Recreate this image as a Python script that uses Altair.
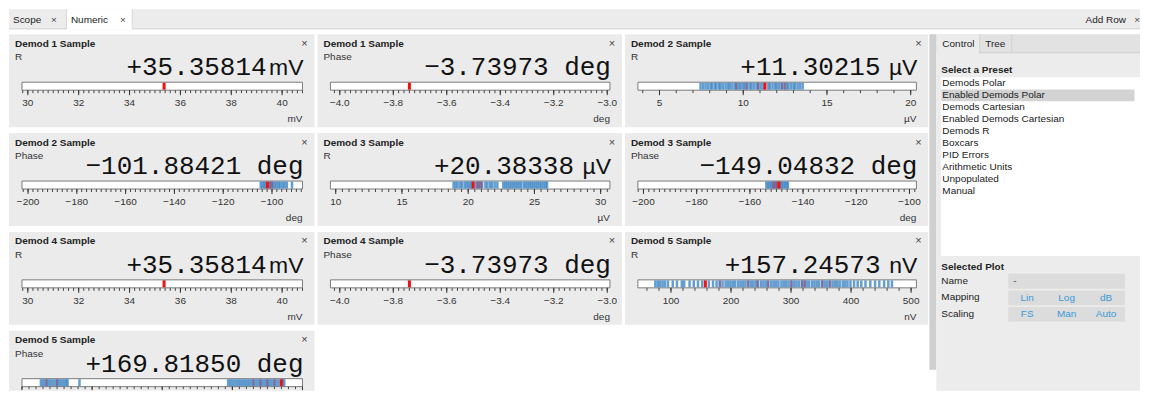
import math
import altair as alt
import pandas as pd

UI_FONT = "Liberation Sans"
MONO = "Liberation Mono"
PANEL_BG = "#ebebeb"
BLUE = "#3d84c4"
PURPLE = "#9a4a6e"
RED = "#ee1111"

# ---------------- data ----------------
titles = ["Demod 1 Sample", "Demod 1 Sample", "Demod 2 Sample", "Demod 2 Sample",
          "Demod 3 Sample", "Demod 3 Sample", "Demod 4 Sample", "Demod 4 Sample",
          "Demod 5 Sample", "Demod 5 Sample"]
quantities = ["R", "Phase", "R", "Phase", "R", "Phase", "R", "Phase", "R", "Phase"]
values = [35.35814, -3.73973, 11.30215, -101.88421, 20.38338, -149.04832,
          35.35814, -3.73973, 157.24573, 169.81850]
value_texts = ["+35.35814", "−3.73973", "+11.30215", "−101.88421", "+20.38338",
               "−149.04832", "+35.35814", "−3.73973", "+157.24573", "+169.81850"]
units = ["mV", "deg", "µV", "deg", "µV", "deg", "mV", "deg", "nV", "deg"]
domains = [[29.77, 40.8], [-4.035, -2.99], [3.71, 20.34], [-202.5, -87.5],
           [9.6, 30.7], [-202.1, -97.4], [29.77, 40.8], [-4.035, -2.99],
           [44.9, 508.8], [-200.0, 200.0]]
major_ticks = [
    [30, 32, 34, 36, 38, 40],
    [-4.0, -3.8, -3.6, -3.4, -3.2, -3.0],
    [5, 10, 15, 20],
    [-200, -180, -160, -140, -120, -100],
    [10, 15, 20, 25, 30],
    [-200, -180, -160, -140, -120, -100],
    [30, 32, 34, 36, 38, 40],
    [-4.0, -3.8, -3.6, -3.4, -3.2, -3.0],
    [100, 200, 300, 400, 500],
    [-200, -100, 0, 100, 200],
]
minor_steps = [0.2, 0.02, 1, 2, 0.5, 2, 0.2, 0.02, 20, 10]
label_formats = ["d", ".1f", "d", "d", "d", "d", "d", ".1f", "d", "d"]

samples = [
    [],
    [],
    [7.45, 7.6, 7.75, 7.9, 8.05, 8.15, 8.3, 8.4, 8.55, 8.65, 8.8, 8.95, 9.1, 9.2,
     9.35, 9.5, 9.6, 9.75, 9.85, 10.0, 10.1, 10.25, 10.4, 10.5, 10.65, 10.8, 10.9,
     11.05, 11.2, 11.5, 11.6, 11.75, 11.9, 12.0, 12.15, 12.3, 12.45, 12.6, 12.7,
     12.85, 13.0, 13.1, 13.25, 13.4, 13.55],
    [-104.6, -103.9, -103.2, -102.6, -101.0, -100.3, -99.5, -98.8, -98.0, -97.2,
     -96.5, -95.6, -94.8, -93.9, -91.8],
    [18.9, 19.05, 19.2, 19.4, 19.55, 19.75, 19.9, 20.05, 20.2, 20.3, 20.6, 20.75,
     20.9, 21.05, 21.3, 21.45, 21.65, 21.8, 22.0, 22.2, 22.65, 22.8, 22.95, 23.1,
     23.25, 23.4, 23.55, 23.7, 23.85, 24.0, 24.2, 24.35, 24.5, 24.65, 24.8, 24.95,
     25.1, 25.25, 25.4, 25.55, 25.7, 25.85, 25.95],
    [-153.8, -153.2, -152.6, -152.0, -151.4, -150.8, -150.2, -149.6, -148.6,
     -148.0, -147.4, -146.8, -146.2, -145.7],
    [],
    [],
    [74, 78, 82, 86, 90, 95, 103, 110, 118, 122, 131, 138, 145, 152, 163, 170, 176,
     181, 186, 191, 195, 199, 203, 207, 212, 216, 220, 224, 229, 233, 237, 241, 245,
     250, 254, 258, 262, 267, 271, 275, 279, 284, 288, 292, 296, 301, 305, 309, 313,
     318, 322, 326, 330, 335, 339, 343, 347, 352, 356, 360, 364, 369, 373, 377, 381,
     386, 390, 394, 399, 405, 411, 417, 424, 432, 440, 447, 455, 462, 468],
    [-173, -170, -167, -164, -161, -158, -155, -152, -149, -146, -143, -140, -137,
     -135, -118, 94, 97, 100, 103, 106, 109, 112, 115, 118, 121, 124, 127, 130, 133,
     136, 139, 142, 145, 148, 151, 154, 157, 160, 163, 166, 172, 174],
]
recent = [
    [], [],
    [9.6, 10.2, 10.9, 12.3, 12.5],
    [-100.9, -100.0],
    [20.7, 20.85, 21.0],
    [-151.3, -150.5, -149.8],
    [], [],
    [182, 228, 244, 262, 300, 318, 323, 352, 365],
    [-165, -150, 130, 140, 150, 160],
]

tab_labels = ["Scope", "Numeric"]
side_tabs = ["Control", "Tree"]
preset_names = ["Demods Polar", "Enabled Demods Polar", "Demods Cartesian",
                "Enabled Demods Cartesian", "Demods R", "Boxcars", "PID Errors",
                "Arithmetic Units", "Unpopulated", "Manual"]
selected_preset = "Enabled Demods Polar"
plot_rows = ["Name", "Mapping", "Scaling"]
mapping_opts = ["Lin", "Log", "dB"]
scaling_opts = ["FS", "Man", "Auto"]

ONE = pd.DataFrame({"k": [0]})
NOVIEW = dict(stroke="transparent", strokeWidth=0)


def minor_list(i):
    lo, hi = domains[i]
    m0 = major_ticks[i][0]
    st = minor_steps[i]
    n_lo = math.ceil((lo - m0) / st - 1e-9)
    n_hi = math.floor((hi - m0) / st + 1e-9)
    return [round(m0 + k * st, 6) for k in range(n_lo, n_hi + 1)]


def panel(i, w, h, full=True):
    lo, hi = domains[i]
    xs = alt.Scale(domain=[lo, hi], range=[13, w - 12], nice=False, zero=False)

    def X(field):
        return alt.X(field, scale=xs, axis=None)

    layers = [alt.Chart(pd.DataFrame({"lo": [lo], "hi": [hi]})).mark_rect(
        fill="white", stroke="#7a7a7a", strokeWidth=1).encode(
        x=X("lo:Q"), x2="hi:Q", y=alt.value(48), y2=alt.value(56))]
    if samples[i]:
        layers.append(alt.Chart(pd.DataFrame({"v": samples[i]})).mark_rule(
            color=BLUE, strokeWidth=2.5, opacity=0.8).encode(
            x=X("v:Q"), y=alt.value(48.5), y2=alt.value(55.5)))
    if recent[i]:
        layers.append(alt.Chart(pd.DataFrame({"v": recent[i]})).mark_rule(
            color=PURPLE, strokeWidth=2, opacity=0.6).encode(
            x=X("v:Q"), y=alt.value(48.5), y2=alt.value(55.5)))
    layers.append(alt.Chart(pd.DataFrame({"v": [values[i]]})).mark_rule(
        color=RED, strokeWidth=3).encode(
        x=X("v:Q"), y=alt.value(48.5), y2=alt.value(55.5)))

    maj_df = pd.DataFrame({"v": [float(v) for v in major_ticks[i]
                                 if domains[i][0] <= v <= domains[i][1]]})
    layers.append(alt.Chart(pd.DataFrame({"v": minor_list(i)})).mark_rule(
        color="#444", strokeWidth=1).encode(
        x=X("v:Q"), y=alt.value(56), y2=alt.value(59 if full else 58.5)))
    layers.append(alt.Chart(maj_df).mark_rule(
        color="#333", strokeWidth=1).encode(
        x=X("v:Q"), y=alt.value(56), y2=alt.value(61 if full else 59.5)))
    if full:
        layers.append(alt.Chart(maj_df).mark_text(
            font=UI_FONT, fontSize=10, color="#333", baseline="middle", align="center").encode(
            x=X("v:Q"), y=alt.value(69),
            text=alt.Text("v:Q", format=label_formats[i])))

    info = pd.DataFrame({"title": [titles[i]], "q": [quantities[i]],
                         "val": [value_texts[i]], "unit": [units[i]],
                         "big": [value_texts[i] + " " + units[i]], "x": ["×"]})
    layers.append(alt.Chart(info).mark_text(
        font=UI_FONT, fontSize=10, fontWeight="bold", align="left",
        baseline="middle", color="#222").encode(
        text="title:N", x=alt.value(6), y=alt.value(9.5)))
    layers.append(alt.Chart(info).mark_text(
        font=UI_FONT, fontSize=11, align="center", baseline="middle",
        color="#444").encode(text="x:N", x=alt.value(w - 10), y=alt.value(9.5)))
    layers.append(alt.Chart(info).mark_text(
        font=UI_FONT, fontSize=10, align="left", baseline="middle",
        color="#333").encode(text="q:N", x=alt.value(6), y=alt.value(23)))
    if units[i] == "deg":
        layers.append(alt.Chart(info).mark_text(
            font=MONO, fontSize=26, align="right", baseline="alphabetic",
            color="#111").encode(text="big:N", x=alt.value(w - 11), y=alt.value(41)))
    else:
        layers.append(alt.Chart(info).mark_text(
            font=MONO, fontSize=26, align="right", baseline="alphabetic",
            color="#111").encode(text="val:N", x=alt.value(w - 48), y=alt.value(41)))
        layers.append(alt.Chart(info).mark_text(
            font=UI_FONT, fontSize=23, align="right", baseline="alphabetic",
            color="#111").encode(text="unit:N", x=alt.value(w - 11), y=alt.value(41)))
    if full:
        layers.append(alt.Chart(info).mark_text(
            font=UI_FONT, fontSize=10, align="right", baseline="middle",
            color="#333").encode(text="unit:N", x=alt.value(w - 12), y=alt.value(85)))
    return alt.layer(*layers).properties(
        width=w, height=h, view=alt.ViewBackground(fill=PANEL_BG, **NOVIEW))


widths = [306, 305, 304]
rows = []
for r in range(3):
    rows.append(alt.hconcat(*[panel(r * 3 + c, widths[c], 93) for c in range(3)], spacing=3))
rows.append(alt.hconcat(panel(9, widths[0], 60, full=False), spacing=3))
grid = alt.vconcat(*rows, spacing=6)

# ---------------- header (tab bar) ----------------
hdr_df = pd.DataFrame({"a": [tab_labels[0]], "b": [tab_labels[1]], "c": ["Add Row"], "x": ["×"]})
header = alt.layer(
    alt.Chart(ONE).mark_rect(fill="white").encode(
        x=alt.value(57), x2=alt.value(124), y=alt.value(0), y2=alt.value(20)),
    alt.Chart(ONE).mark_rule(color="#d4d4d4").encode(
        x=alt.value(57.5), y=alt.value(0), y2=alt.value(20)),
    alt.Chart(ONE).mark_rule(color="#d4d4d4").encode(
        x=alt.value(123.5), y=alt.value(0), y2=alt.value(20)),
    alt.Chart(ONE).mark_rule(color="#d4d4d4").encode(
        x=alt.value(0), x2=alt.value(57), y=alt.value(19.5)),
    alt.Chart(ONE).mark_rule(color="#d4d4d4").encode(
        x=alt.value(124), x2=alt.value(1133), y=alt.value(19.5)),
    alt.Chart(hdr_df).mark_text(font=UI_FONT, fontSize=10, align="left", baseline="middle", color="#222").encode(
        text="a:N", x=alt.value(4), y=alt.value(10.5)),
    alt.Chart(hdr_df).mark_text(font=UI_FONT, fontSize=10, align="center", baseline="middle", color="#444").encode(
        text="x:N", x=alt.value(45), y=alt.value(10.5)),
    alt.Chart(hdr_df).mark_text(font=UI_FONT, fontSize=10, align="left", baseline="middle", color="#222").encode(
        text="b:N", x=alt.value(62), y=alt.value(10.5)),
    alt.Chart(hdr_df).mark_text(font=UI_FONT, fontSize=10, align="center", baseline="middle", color="#444").encode(
        text="x:N", x=alt.value(114), y=alt.value(10.5)),
    alt.Chart(hdr_df).mark_text(font=UI_FONT, fontSize=10, align="right", baseline="middle", color="#222").encode(
        text="c:N", x=alt.value(1119), y=alt.value(10.5)),
    alt.Chart(hdr_df).mark_text(font=UI_FONT, fontSize=10, align="right", baseline="middle", color="#444").encode(
        text="x:N", x=alt.value(1133), y=alt.value(10.5)),
).properties(width=1133, height=20,
             view=alt.ViewBackground(fill="#ececec", **NOVIEW))

# ---------------- side panel ----------------
SW, SH = 212, 357
side_txt = pd.DataFrame({"t0": [side_tabs[0]], "t1": [side_tabs[1]],
                         "sp": ["Select a Preset"], "sel": ["Selected Plot"], "dash": ["-"]})
presets_df = pd.DataFrame({"name": preset_names})
rows_df = pd.DataFrame({"lab": plot_rows})
btn_df = pd.DataFrame({
    "row": ["Mapping"] * 3 + ["Scaling"] * 3,
    "col": [0, 1, 2, 0, 1, 2],
    "label": mapping_opts + scaling_opts,
})
side = alt.layer(
    alt.Chart(ONE).mark_rect(fill="#cfcfcf").encode(
        x=alt.value(1), x2=alt.value(8), y=alt.value(0), y2=alt.value(336)),
    alt.Chart(ONE).mark_rect(fill="#ececec").encode(
        x=alt.value(8), x2=alt.value(SW), y=alt.value(0), y2=alt.value(SH)),
    alt.Chart(ONE).mark_rect(fill="#e2e2e2").encode(
        x=alt.value(8), x2=alt.value(SW), y=alt.value(0), y2=alt.value(19)),
    alt.Chart(ONE).mark_rect(fill="#ececec").encode(
        x=alt.value(9), x2=alt.value(51), y=alt.value(0), y2=alt.value(19)),
    alt.Chart(ONE).mark_rule(color="#d2d2d2").encode(
        x=alt.value(51), x2=alt.value(SW), y=alt.value(18.5)),
    alt.Chart(ONE).mark_rule(color="#d2d2d2").encode(
        x=alt.value(51.5), y=alt.value(0), y2=alt.value(19)),
    alt.Chart(ONE).mark_rule(color="#d2d2d2").encode(
        x=alt.value(83.5), y=alt.value(0), y2=alt.value(19)),
    alt.Chart(side_txt).mark_text(font=UI_FONT, fontSize=10, align="left", baseline="middle", color="#222").encode(
        text="t0:N", x=alt.value(14), y=alt.value(10)),
    alt.Chart(side_txt).mark_text(font=UI_FONT, fontSize=10, align="left", baseline="middle", color="#222").encode(
        text="t1:N", x=alt.value(57), y=alt.value(10)),
    alt.Chart(side_txt).mark_text(font=UI_FONT, fontSize=10, fontWeight="bold", align="left", baseline="middle", color="#222").encode(
        text="sp:N", x=alt.value(13), y=alt.value(36)),
    alt.Chart(ONE).mark_rect(fill="white").encode(
        x=alt.value(12.5), x2=alt.value(SW), y=alt.value(43), y2=alt.value(222)),
    alt.Chart(ONE).mark_rect(fill="#d3d3d3").encode(
        x=alt.value(13), x2=alt.value(206.5), y=alt.value(55.3), y2=alt.value(67)),
    alt.Chart(presets_df).mark_text(font=UI_FONT, fontSize=10, align="left", baseline="middle", color="#222").encode(
        text="name:N", x=alt.value(14),
        y=alt.Y("name:N", sort=preset_names, axis=None,
                scale=alt.Scale(type="point", range=[48.7, 156.7], padding=0))),
    alt.Chart(side_txt).mark_text(font=UI_FONT, fontSize=10, fontWeight="bold", align="left", baseline="middle", color="#222").encode(
        text="sel:N", x=alt.value(13), y=alt.value(233)),
    alt.Chart(rows_df).mark_rect(fill="#dcdcdc").encode(
        x=alt.value(80), x2=alt.value(197),
        y=alt.Y("lab:N", sort=plot_rows, axis=None,
                scale=alt.Scale(type="band", range=[240, 288], paddingInner=0.1, paddingOuter=0))),
    alt.Chart(rows_df).mark_text(font=UI_FONT, fontSize=10, align="left", baseline="middle", color="#222").encode(
        text="lab:N", x=alt.value(13),
        y=alt.Y("lab:N", sort=plot_rows, axis=None,
                scale=alt.Scale(type="point", range=[247, 280], padding=0))),
    alt.Chart(side_txt).mark_text(font=UI_FONT, fontSize=10, align="left", baseline="middle", color="#444").encode(
        text="dash:N", x=alt.value(85), y=alt.value(247)),
    alt.Chart(btn_df).mark_text(font=UI_FONT, fontSize=10, align="center", baseline="middle", color="#3a9ad9").encode(
        text="label:N",
        x=alt.X("col:O", axis=None, scale=alt.Scale(type="point", range=[99, 178], padding=0)),
        y=alt.Y("row:N", sort=["Mapping", "Scaling"], axis=None,
                scale=alt.Scale(type="point", range=[264, 280], padding=0))),
).resolve_scale(x="independent", y="independent").properties(
    width=SW, height=SH, view=alt.ViewBackground(fill="white", **NOVIEW))

chart = alt.vconcat(
    header,
    alt.hconcat(grid, side, spacing=0),
    spacing=3,
).properties(padding=0, background="white").configure_view(stroke="transparent", strokeWidth=0)

chart.save("out.html", embed_options={"renderer": "svg", "actions": False})
